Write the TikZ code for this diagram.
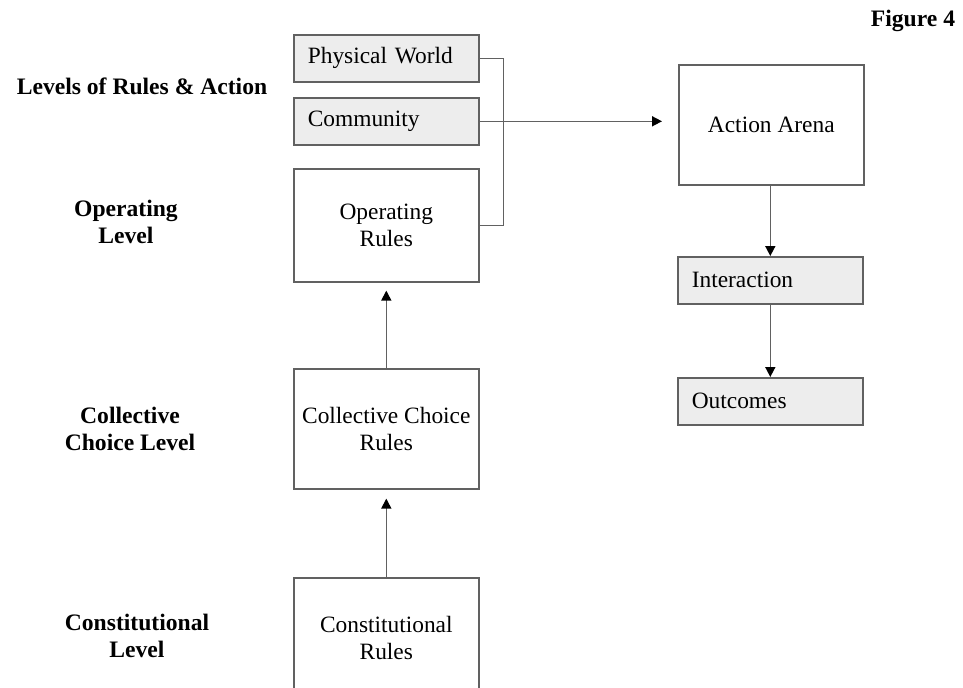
\documentclass[tikz,border=0pt]{standalone}
\usepackage{fontspec}
\setmainfont{Liberation Serif}
\usetikzlibrary{
  shapes,
  calc,
  positioning,
  arrows.meta
}
\definecolor{linec}{gray}{0.38}
\definecolor{shade}{gray}{0.93}

\begin{document}
\begin{tikzpicture}[x=0.5pt,y=-0.5pt,
  font=\fontsize{11.7}{13.8}\selectfont,
  box/.style={rectangle,draw=linec,line width=0.8pt,minimum width=92.5pt,align=center,anchor=north west},
  shaded/.style={box,fill=shade,minimum height=23.5pt,text width=78.5pt,inner xsep=7pt,align=left},
  lvl/.style={font=\fontsize{11.8}{13.8}\selectfont\bfseries,align=center},
  conn/.style={linec,line width=0.8pt},
  >={Triangle[width=5pt,length=5pt,color=black]}]
\useasboundingbox (0,0) rectangle (963,687);
\clip (0,0) rectangle (963,687);
\node[lvl] (F) at (913,21) {Figure 4};
\node[lvl] (L0) at (142,86) {Levels of Rules \& Action};
\node[lvl] (L1) at (126,222) {Operating\\Level};
\node[lvl] (L2) at (130,429) {Collective\\Choice Level};
\node[lvl] (L3) at (137,636) {Constitutional\\Level};
\node[shaded] (PW) at (293,34) {Physical World};
\node[shaded] (CM) at (293,97) {Community};
\node[box,minimum height=56.5pt] (OR) at (293,168) {Operating\\Rules};
\node[box,minimum height=60pt] (CC) at (293,368) {Collective Choice\\Rules};
\node[box,minimum height=60pt] (CR) at (293,577) {Constitutional\\Rules};
\node[box,minimum height=60pt] (AA) at (678,64) {Action Arena};
\node[shaded] (IN) at (677,256) {Interaction};
\node[shaded] (OC) at (677,377) {Outcomes};
\draw[conn] (PW.east) -- ++(24,0) |- (OR.east);
\draw[conn,->,shorten >=8pt] (CM.east) -- (CM.east -| AA.west);
\draw[conn,->,shorten >=4pt] (CC.north) -- (OR.south);
\draw[conn,->,shorten >=4.5pt] (CR.north) -- (CC.south);
\draw[conn,->] (AA.south -| IN.north) -- (IN.north);
\draw[conn,->] (IN.south) -- (OC.north);
\end{tikzpicture}
\end{document}
